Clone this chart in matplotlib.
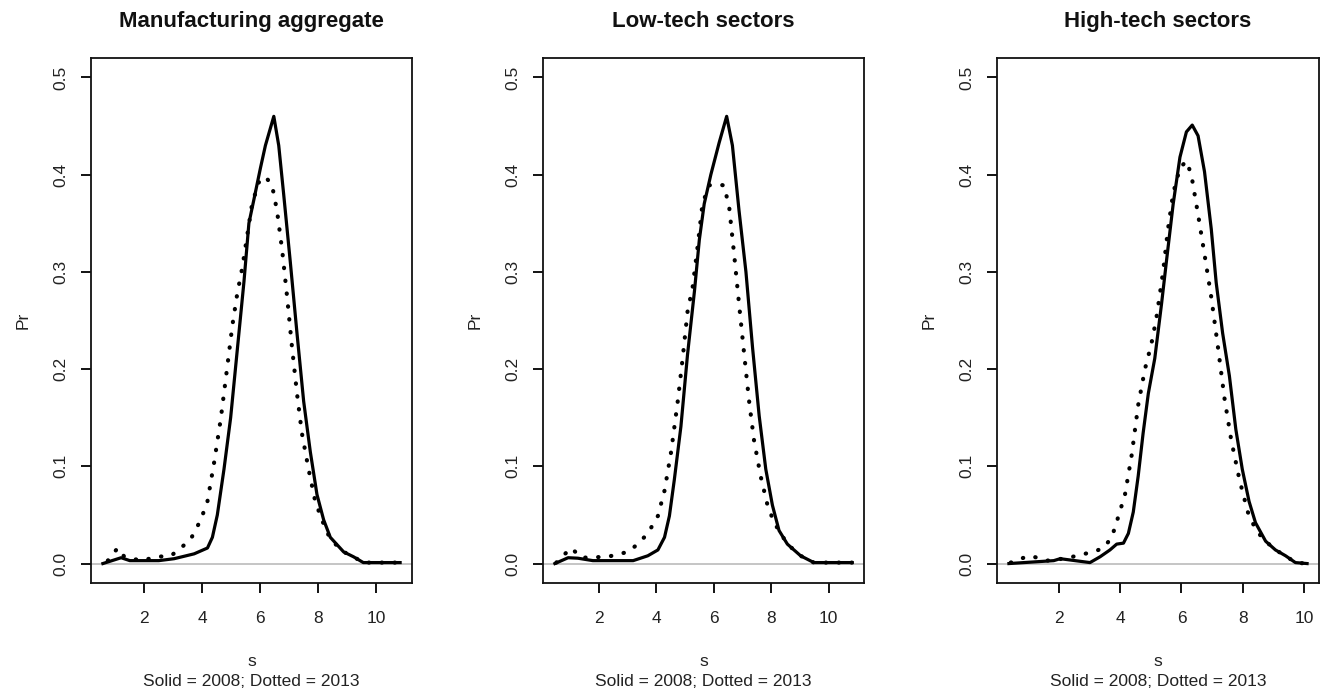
import matplotlib
matplotlib.use("Agg")
import matplotlib.pyplot as plt
import numpy as np

plt.rcParams['font.family'] = ['Liberation Sans', 'DejaVu Sans']

titles = ["Manufacturing aggregate", "Low-tech sectors", "High-tech sectors"]
x_ticks = [2, 4, 6, 8, 10]
y_ticks = [0.0, 0.1, 0.2, 0.3, 0.4, 0.5]
y_tick_labels = ["0.0", "0.1", "0.2", "0.3", "0.4", "0.5"]

# Panel 1: Manufacturing aggregate
man_solid_x = [0.57, 1.2, 1.5, 2.0, 2.5, 3.03, 3.72, 4.18, 4.35, 4.52, 4.75, 4.98, 5.21, 5.44, 5.61, 5.78,
               6.01, 6.18, 6.47, 6.64, 6.81, 7.04, 7.27, 7.50, 7.73, 7.96, 8.19, 8.42, 8.88, 9.22, 9.56, 10.2, 10.83]
man_solid_y = [0.0, 0.006, 0.003, 0.003, 0.003, 0.005, 0.010, 0.016, 0.027, 0.050, 0.097, 0.150, 0.220, 0.290,
               0.350, 0.374, 0.407, 0.430, 0.460, 0.430, 0.380, 0.310, 0.237, 0.167, 0.115, 0.071, 0.045, 0.027,
               0.012, 0.007, 0.001, 0.001, 0.001]
man_dot_x = [0.74, 1.08, 1.31, 1.89, 2.46, 2.92, 3.26, 3.60, 3.95, 4.18, 4.41, 4.64, 4.87, 5.04, 5.21, 5.38,
             5.55, 5.72, 5.95, 6.18, 6.41, 6.58, 6.76, 6.93, 7.10, 7.27, 7.44, 7.67, 7.90, 8.13, 8.42, 8.88,
             9.22, 9.56, 10.2, 10.8]
man_dot_y = [0.003, 0.016, 0.007, 0.003, 0.007, 0.008, 0.016, 0.025, 0.045, 0.064, 0.104, 0.149, 0.204, 0.245,
             0.278, 0.304, 0.337, 0.370, 0.392, 0.398, 0.389, 0.363, 0.322, 0.274, 0.222, 0.175, 0.134, 0.097,
             0.064, 0.045, 0.025, 0.012, 0.007, 0.001, 0.001, 0.001]

# Panel 2: Low-tech sectors
low_solid_x = [0.48, 0.94, 1.28, 1.8, 2.5, 3.2, 3.71, 4.06, 4.29, 4.46, 4.63, 4.86, 5.09, 5.33, 5.50, 5.67,
               5.90, 6.19, 6.45, 6.65, 6.88, 7.12, 7.35, 7.58, 7.81, 8.04, 8.27, 8.56, 9.02, 9.48, 10.1, 10.81]
low_solid_y = [0.0, 0.006, 0.0055, 0.003, 0.003, 0.003, 0.008, 0.014, 0.027, 0.049, 0.086, 0.141, 0.215, 0.280,
               0.333, 0.370, 0.400, 0.433, 0.460, 0.430, 0.363, 0.300, 0.222, 0.152, 0.097, 0.060, 0.034, 0.020,
               0.008, 0.001, 0.001, 0.001]
low_dot_x = [0.53, 0.76, 1.05, 1.40, 2.32, 3.02, 3.36, 3.71, 4.06, 4.29, 4.52, 4.75, 4.92, 5.09, 5.27, 5.44,
             5.61, 5.84, 6.08, 6.36, 6.54, 6.71, 6.88, 7.06, 7.23, 7.40, 7.63, 7.87, 8.10, 8.56, 9.02, 9.48,
             10.1, 10.8]
low_dot_y = [0.001, 0.008, 0.016, 0.006, 0.007, 0.012, 0.020, 0.031, 0.049, 0.075, 0.115, 0.167, 0.211, 0.259,
             0.285, 0.326, 0.370, 0.389, 0.390, 0.389, 0.366, 0.318, 0.267, 0.215, 0.167, 0.127, 0.090, 0.060,
             0.042, 0.020, 0.008, 0.001, 0.001, 0.001]

# Panel 3: High-tech sectors
high_solid_x = [0.38, 1.84, 2.05, 3.02, 3.35, 3.67, 3.89, 4.11, 4.27, 4.43, 4.59, 4.75, 4.92, 5.13, 5.35, 5.51,
                5.73, 5.95, 6.16, 6.35, 6.54, 6.75, 6.97, 7.13, 7.34, 7.56, 7.77, 7.98, 8.20, 8.41, 8.74, 9.06,
                9.39, 9.71, 10.09]
high_solid_y = [0.0, 0.003, 0.005, 0.001, 0.007, 0.014, 0.020, 0.021, 0.031, 0.053, 0.090, 0.134, 0.175, 0.211,
                0.267, 0.311, 0.370, 0.418, 0.444, 0.451, 0.440, 0.403, 0.344, 0.289, 0.237, 0.193, 0.138, 0.097,
                0.064, 0.042, 0.023, 0.014, 0.008, 0.001, 0.0]
high_dot_x = [0.44, 0.76, 1.08, 1.62, 2.27, 2.70, 3.13, 3.46, 3.73, 3.95, 4.16, 4.38, 4.59, 4.81, 5.02, 5.18,
              5.40, 5.56, 5.73, 5.95, 6.16, 6.32, 6.54, 6.75, 6.97, 7.19, 7.40, 7.62, 7.89, 8.16, 8.43, 8.74,
              9.06, 9.39, 9.71, 10.05]
high_dot_y = [0.001, 0.005, 0.008, 0.003, 0.0055, 0.009, 0.012, 0.016, 0.027, 0.049, 0.071, 0.112, 0.163, 0.200,
              0.226, 0.252, 0.300, 0.344, 0.381, 0.407, 0.414, 0.400, 0.359, 0.318, 0.274, 0.222, 0.170, 0.127,
              0.086, 0.053, 0.034, 0.023, 0.014, 0.008, 0.001, 0.0]

panels = [
    (man_solid_x, man_solid_y, man_dot_x, man_dot_y),
    (low_solid_x, low_solid_y, low_dot_x, low_dot_y),
    (high_solid_x, high_solid_y, high_dot_x, high_dot_y),
]

W, H = 1328, 697
fig = plt.figure(figsize=(W / 100, H / 100), dpi=100)
box_top, box_bottom = 58, 583
boxes_lr = [(91, 412), (543, 864), (997, 1319)]
positions = [[l / W, (H - box_bottom) / H, (r - l) / W, (box_bottom - box_top) / H] for l, r in boxes_lr]

txt_col = "#222222"
for pos, title, (sx, sy, dx, dy) in zip(positions, titles, panels):
    ax = fig.add_axes(pos)
    ax.axhline(0, color="#bbbbbb", lw=1.2, zorder=1)
    ax.plot(sx, sy, color="black", lw=2.3, solid_joinstyle="round", zorder=3)
    ax.plot(dx, dy, color="black", lw=3.0, linestyle=(0, (0.1, 3.0)),
            dash_capstyle="round", zorder=3)
    allx = list(sx) + list(dx)
    lo, hi = min(allx), max(allx)
    r = hi - lo
    ax.set_xlim(lo - 0.04 * r, hi + 0.04 * r)
    ax.set_ylim(-0.02, 0.52)
    ax.set_xticks(x_ticks)
    ax.set_xticklabels([str(t) for t in x_ticks])
    ax.set_yticks(y_ticks)
    ax.set_yticklabels(y_tick_labels, rotation=90, va="center")
    ax.tick_params(axis="both", direction="out", length=7, width=1.3, labelsize=12.5,
                   colors="black", labelcolor=txt_col)
    ax.tick_params(axis="x", pad=13)
    ax.tick_params(axis="y", pad=9)
    for sp in ax.spines.values():
        sp.set_linewidth(1.3)
        sp.set_color("#111111")
    ax.set_title(title, fontsize=16, fontweight="bold", pad=22, color="#111111")
    ax.set_ylabel("Pr", fontsize=12.5, color=txt_col, labelpad=17)
    ax.set_xlabel("s", fontsize=12.5, color=txt_col, labelpad=20)
    ax.text(0.5, -99 / (box_bottom - box_top), "Solid = 2008; Dotted = 2013", transform=ax.transAxes,
            ha="center", va="center", fontsize=12.5, color=txt_col)

fig.savefig("out.png", dpi=100, facecolor="white")
